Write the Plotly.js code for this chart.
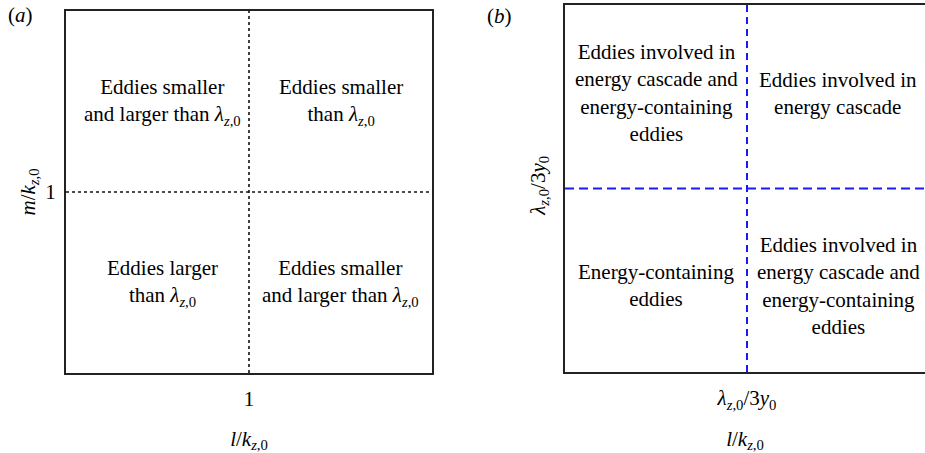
<!DOCTYPE html>
<html>
<head>
<meta charset="utf-8">
<script src="https://cdn.plot.ly/plotly-3.0.1.min.js"></script>
<style>
html,body{margin:0;padding:0;overflow:hidden;background:#fff;}
</style>
</head>
<body>
<div id="chart"></div>
<script>
// ---- data ----
var axisRange = [0, 2];
var splitValue = 1;
var tickLabelA = ["1"];
var tickLabelB = ["<i>λ</i><sub><i>z</i>,0</sub>/3<i>y</i><sub>0</sub>"];
var xTitle = "<i>l</i>/<i>k</i><sub><i>z</i>,0</sub>";
var yTitleA = "<i>m</i>/<i>k</i><sub><i>z</i>,0</sub>";
var panelLabels = ["(<i>a</i>)", "(<i>b</i>)"];
var quadX = [0.53, 1.5, 0.53, 1.5];
var quadY = [1.5, 1.5, 0.5, 0.5];
var textsA = [
  "Eddies smaller<br>and larger than <i>λ</i><sub><i>z</i>,0</sub>",
  "Eddies smaller<br>than <i>λ</i><sub><i>z</i>,0</sub>",
  "Eddies larger<br>than <i>λ</i><sub><i>z</i>,0</sub>",
  "Eddies smaller<br>and larger than <i>λ</i><sub><i>z</i>,0</sub>"
];
var quadXB = [0.5, 1.5, 0.5, 1.5];
var quadYB = [1.52, 1.52, 0.47, 0.47];
var textsB = [
  "Eddies involved in<br>energy cascade and<br>energy-containing<br>eddies",
  "Eddies involved in<br>energy cascade",
  "Energy-containing<br>eddies",
  "Eddies involved in<br>energy cascade and<br>energy-containing<br>eddies"
];

var W = 925, H = 453;
var FONT = "Liberation Serif";
var fs = 21;

function axisBase(domain, tickvals, ticktext) {
  return {
    domain: domain, range: axisRange, showgrid: false, zeroline: false,
    showline: true, mirror: false, linewidth: 2, linecolor: "#222",
    ticks: "", tickvals: tickvals, ticktext: ticktext,
    tickfont: {family: FONT, size: fs, color: "#000"},
    fixedrange: true, automargin: false
  };
}

var xa = axisBase([66/W, 432/W], [splitValue], tickLabelA);
xa.mirror = true;
xa.title = {text: xTitle, font: {family: FONT, size: fs, color: "#000"}, standoff: 22};
xa.ticklabelstandoff = 6;
var ya = axisBase([1-373/H, 1-11/H], [splitValue], tickLabelA);
ya.mirror = true;
ya.title = {text: yTitleA, font: {family: FONT, size: fs, color: "#000"}, standoff: 4};
ya.ticklabelstandoff = 4;
// panel (b) box runs past the right edge of the picture: no right-hand mirror line
var xb = axisBase([565/W, 1], [splitValue], tickLabelB);
xb.mirror = true;
xb.range = [0, 360 / 182];
xb.title = {text: xTitle, font: {family: FONT, size: fs, color: "#000"}, standoff: 20};
xb.ticklabelstandoff = 6;
xb.anchor = "y2";
var yb = axisBase([1-372/H, 1-5/H], [splitValue], tickLabelB);
yb.tickangle = -90;
yb.anchor = "x2";
yb.ticklabelstandoff = 10;

var traces = [
  {x: axisRange, y: axisRange, mode: "markers", marker: {opacity: 0}, hoverinfo: "skip", xaxis: "x", yaxis: "y", showlegend: false},
  {x: axisRange, y: axisRange, mode: "markers", marker: {opacity: 0}, hoverinfo: "skip", xaxis: "x2", yaxis: "y2", showlegend: false}
];

var shapes = [
  {type: "line", xref: "x", yref: "y", x0: splitValue, x1: splitValue, y0: axisRange[0], y1: axisRange[1], line: {color: "#111", width: 1.6, dash: "dot"}},
  {type: "line", xref: "x", yref: "y", x0: axisRange[0], x1: axisRange[1], y0: splitValue, y1: splitValue, line: {color: "#111", width: 1.6, dash: "dot"}},
  {type: "line", xref: "x2", yref: "y2", x0: splitValue, x1: splitValue, y0: axisRange[0], y1: axisRange[1], line: {color: "#1a1aff", width: 2, dash: "7px,5px"}},
  {type: "line", xref: "x2", yref: "paper", x0: axisRange[0], x1: 360 / 182, y0: 1 - 188.5 / H, y1: 1 - 188.5 / H, line: {color: "#1a1aff", width: 2, dash: "9px,5px"}}
];
shapes[3].yref = "y2"; shapes[3].y0 = splitValue; shapes[3].y1 = splitValue;

var annotations = [];
for (var i = 0; i < 4; i++) {
  annotations.push({xref: "x", yref: "y", x: quadX[i], y: quadY[i], text: textsA[i], showarrow: false,
    font: {family: FONT, size: fs, color: "#000"}, align: "center"});
  annotations.push({xref: "x2", yref: "y2", x: quadXB[i], y: quadYB[i], text: textsB[i], showarrow: false,
    font: {family: FONT, size: fs, color: "#000"}, align: "center"});
}
annotations.push({xref: "paper", yref: "paper", x: 20/W, y: 1-15/H, text: panelLabels[0], showarrow: false,
  font: {family: FONT, size: fs, color: "#000"}, xanchor: "center", yanchor: "middle"});
annotations.push({xref: "paper", yref: "paper", x: 499/W, y: 1-16/H, text: panelLabels[1], showarrow: false,
  font: {family: FONT, size: fs, color: "#000"}, xanchor: "center", yanchor: "middle"});

var layout = {
  width: W, height: H,
  margin: {l: 0, r: 0, t: 0, b: 0},
  paper_bgcolor: "#fff", plot_bgcolor: "#fff",
  xaxis: xa, yaxis: ya, xaxis2: xb, yaxis2: yb,
  shapes: shapes, annotations: annotations,
  showlegend: false,
  font: {family: FONT, size: fs, color: "#000"}
};

Plotly.newPlot("chart", traces, layout, {staticPlot: true, displayModeBar: false}).then(function (gd) {
  var els = gd.querySelectorAll("text, tspan");
  for (var k = 0; k < els.length; k++) {
    els[k].setAttribute("font-family", FONT);
    els[k].style.fontFamily = "'Liberation Serif', serif";
    if (els[k].tagName.toLowerCase() === "text") {
      var s = window.getComputedStyle(els[k]).fontSize;
      if (s) els[k].setAttribute("font-size", s);
    }
  }
});
</script>
</body>
</html>
